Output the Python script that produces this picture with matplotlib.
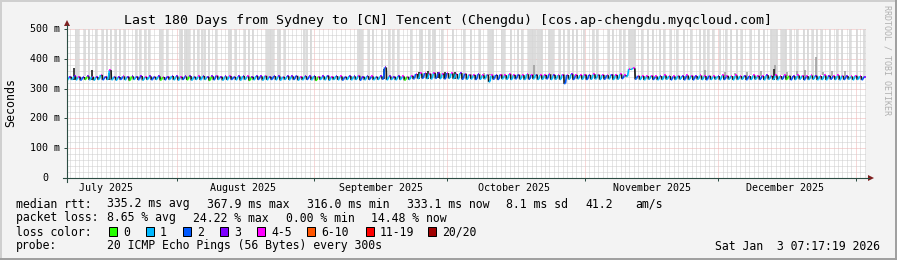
import datetime as dt
import matplotlib
matplotlib.use('Agg')
import matplotlib.pyplot as plt
from matplotlib.collections import LineCollection
from matplotlib.lines import Line2D
from matplotlib.patches import Rectangle, Polygon

matplotlib.rcParams['lines.scale_dashes'] = False
MONO = 'DejaVu Sans Mono'

# ---- data ----------------------------------------------------------------
START = dt.datetime(2025, 7, 7, 7, 17, 19)
N_DAYS = 180

# median rtt per day (ms): bottom and top of the daily sawtooth
low_ms = [
    329, 330, 329, 328, 330, 329, 328, 330, 329, 330,
    329, 328, 330, 329, 327, 330, 329, 328, 330, 329,
    330, 328, 329, 330, 329, 328, 330, 329, 328, 330,
    329, 330, 327, 329, 330, 328, 329, 330, 329, 328,
    330, 327, 329, 330, 328, 329, 330, 329, 328, 330,
    329, 330, 328, 329, 330, 329, 327, 330, 329, 328,
    330, 329, 328, 330, 329, 330, 328, 329, 330, 329,
    330, 331, 329, 330, 329, 330, 328, 330, 332, 333,
    334, 333, 332, 334, 333, 332, 334, 333, 332, 331,
    331, 332, 330, 331, 332, 322, 331, 330, 332, 331,
    330, 332, 331, 330, 331, 332, 330, 331, 332, 330,
    331, 330, 316, 331, 330, 332, 331, 330, 331, 332,
    330, 331, 332, 330, 331, 333, 340, 364, 331, 330,
    329, 331, 330, 329, 330, 331, 329, 330, 331, 329,
    330, 329, 331, 330, 329, 330, 331, 329, 330, 331,
    329, 330, 331, 329, 330, 331, 330, 329, 331, 330,
    329, 331, 330, 329, 330, 331, 329, 330, 331, 329,
    330, 329, 331, 330, 329, 330, 331, 329, 330, 329,
]
high_ms = [
    340, 341, 340, 339, 341, 340, 339, 346, 340, 362,
    340, 339, 341, 340, 341, 340, 342, 339, 341, 340,
    341, 339, 340, 342, 341, 340, 341, 342, 340, 341,
    342, 340, 341, 343, 340, 341, 342, 340, 341, 342,
    341, 340, 342, 341, 343, 340, 342, 341, 340, 342,
    341, 343, 340, 342, 341, 342, 340, 341, 343, 340,
    342, 341, 340, 342, 341, 343, 340, 342, 341, 340,
    341, 371, 341, 340, 342, 341, 340, 343, 349, 351,
    352, 350, 353, 351, 350, 352, 351, 349, 352, 350,
    347, 346, 348, 345, 347, 344, 346, 347, 345, 348,
    346, 347, 345, 348, 346, 347, 345, 346, 348, 346,
    345, 347, 346, 348, 346, 345, 347, 346, 348, 347,
    346, 345, 347, 346, 348, 345, 366, 368, 343, 342,
    342, 343, 341, 342, 344, 342, 341, 343, 342, 344,
    343, 342, 344, 342, 343, 341, 342, 344, 343, 342,
    344, 342, 343, 342, 344, 343, 342, 345, 343, 344,
    342, 344, 343, 342, 344, 343, 342, 344, 343, 342,
    344, 343, 342, 344, 343, 342, 341, 343, 342, 340,
]
# loss class of the low/rising part and of the top of each day's tooth
rise_loss = (
    "1112011121" "1121012112" "1021112011" "1102111211" "1012112111"
    "1211210111" "1121112121" "1211110121" "2112121112" "1121112211"
    "1211211121" "1121211211" "1211121121" "1121112112" "1211211121"
    "1112112111" "1202112111" "1121121112"
)
top_loss = (
    "3343343434" "3343333433" "3433343334" "3334334333" "4333433343"
    "3343334334" "3433343343" "3333344444" "4443444434" "4434443444"
    "4344434443" "4443444344" "4434444444" "4443444434" "4344443444"
    "4434444344" "4443444434" "4344434443"
)

# days (since start) with single pings above the 500 ms ceiling
spike_days = [
    2.0, 2.5, 4.0, 5.0, 6.5, 8.0, 9.0, 10.0, 11.0, 12.0, 13.0, 15.5, 16.5,
    17.5, 18.5, 21.0, 21.5, 22.5, 25.5, 26.0, 26.5, 27.0, 27.5, 28.5, 29.5,
    30.5, 31.0, 32.0, 33.5, 36.5, 37.0, 38.0, 40.0, 41.0, 42.0, 45.0, 45.5,
    46.0, 46.5, 47.5, 48.0, 49.0, 53.5, 54.0, 55.0, 65.5, 66.0, 66.5, 68.0,
    69.0, 71.0, 72.5, 73.5, 74.5, 77.5, 79.5, 80.0, 81.5, 82.5, 83.0, 84.5,
    87.0, 89.5, 91.0, 93.0, 95.0, 95.5, 96.0, 98.0, 98.5, 100.0, 101.5,
    102.5, 104.0, 104.5, 105.0, 105.5, 106.0, 106.5, 107.0, 108.5, 109.0,
    109.5, 111.0, 112.0, 113.0, 114.0, 115.0, 116.5, 118.5, 119.5, 122.0,
    123.0, 124.5, 125.5, 126.5, 127.0, 127.5, 128.0, 129.5, 131.0, 132.0,
    133.5, 134.5, 136.0, 137.5, 139.0, 140.5, 142.5, 143.5, 144.5, 145.5,
    147.0, 148.5, 149.5, 151.0, 152.0, 154.0, 156.0, 157.0, 158.5, 159.0,
    159.5, 160.0, 161.0, 161.5, 162.0, 163.0, 164.5, 166.0, 167.0, 168.0,
    169.0, 170.0, 172.0, 173.5, 174.5, 176.5, 178.0, 179.5,
]
# denser smoke reaching above the median
dark_smoke_days = [1.6, 5.6, 9.5, 71.4, 79.3, 81.4, 83.5, 85.2, 87.4, 159.2]
dark_smoke_top = [370, 362, 352, 366, 357, 358, 356, 357, 355, 366]
grey_smoke_days = [94.0, 95.3, 105.3, 143.8, 148.2, 150.4, 153.3, 156.4,
                   159.6, 162.3, 164.4, 166.2, 168.8, 170.3, 172.4, 175.2]
grey_smoke_top = [352, 350, 380, 363, 355, 352, 356, 360,
                  380, 357, 358, 362, 406, 356, 358, 360]

months = [(2025, 7), (2025, 8), (2025, 9), (2025, 10), (2025, 11), (2025, 12), (2026, 1)]
month_labels = ['July 2025', 'August 2025', 'September 2025', 'October 2025',
                'November 2025', 'December 2025']
y_ticks = [0, 100, 200, 300, 400, 500]
y_labels = ['0', '100 m', '200 m', '300 m', '400 m', '500 m']

loss_keys = ['0', '1', '2', '3', '4', '6', '11', '20']
loss_names = ['0', '1', '2', '3', '4-5', '6-10', '11-19', '20/20']
loss_colors = ['#26ff00', '#00b8ff', '#0059ff', '#7e00ff', '#ff00ff',
               '#ff5500', '#ff0000', '#a00000']
lc = dict(zip(loss_keys, loss_colors))

# ---- figure ---------------------------------------------------------------
W, H, DPI = 897, 260, 100
BACK = '#f3f3f3'
AXIS = '#2c4d43'
ARROW = '#7f1f1f'
fig = plt.figure(figsize=(W / DPI, H / DPI), dpi=DPI, facecolor=BACK)


def fx(x):
    return x / W


def fy(y):
    return 1 - y / H


L, R, T, B = 67, 866, 29, 178
ax = fig.add_axes([fx(L), fy(B), (R - L) / W, (B - T) / H], facecolor='white')
ax.set_xlim(0, N_DAYS)
ax.set_ylim(0, 500)
for s in ax.spines.values():
    s.set_visible(False)


def days_since_start(d):
    return (d - START).total_seconds() / 86400.0


month_starts = [days_since_start(dt.datetime(y, m, 1)) for y, m in months]
first_midnight = days_since_start(dt.datetime(2025, 7, 8))
day_lines = [first_midnight + k for k in range(N_DAYS)]

ax.set_xticks([m for m in month_starts if 0 < m < N_DAYS])
ax.set_xticks(day_lines, minor=True)
ax.set_yticks(y_ticks)
ax.set_yticks(range(0, 501, 20), minor=True)
ax.set_xticklabels([])
ax.set_yticklabels([])
ax.tick_params(which='major', length=2.2, width=0.72, color=AXIS, direction='out')
ax.tick_params(which='minor', length=0)
ax.grid(which='minor', color='#cdcdcd', lw=0.72, linestyle=(0, (0.72, 0.72)))
ax.grid(which='major', color='#efb3b3', lw=0.72, linestyle=(0, (0.72, 0.72)))
ax.set_axisbelow(True)

# spikes to the ceiling
ax.vlines(spike_days, [high_ms[int(d)] for d in spike_days], 505,
          color='#d6d6d6', lw=1.2, zorder=2)
ax.vlines(grey_smoke_days, [high_ms[int(d)] for d in grey_smoke_days], grey_smoke_top,
          color='#9a9a9a', lw=1.1, zorder=3)
ax.vlines(dark_smoke_days, [low_ms[int(d)] for d in dark_smoke_days], dark_smoke_top,
          color='#202020', lw=1.2, zorder=3)

# median line, coloured by loss: rising part, coloured top, dark drop
segs, cols = [], []
for d in range(N_DAYS):
    segs.append([(d, low_ms[d]), (d + 0.3, low_ms[d] + 2)])
    cols.append(lc[rise_loss[d]])
    segs.append([(d + 0.3, low_ms[d] + 2), (d + 0.55, high_ms[d])])
    cols.append(lc[rise_loss[d]])
    segs.append([(d + 0.55, high_ms[d]), (d + 0.92, high_ms[d])])
    cols.append(lc[top_loss[d]])
    if d + 1 < N_DAYS:
        segs.append([(d + 0.92, high_ms[d]), (d + 1, low_ms[d + 1])])
        cols.append('#1a1a1a')
ax.add_collection(LineCollection(segs, colors=cols, linewidths=1.2, zorder=4))

# y tick labels (monospace, "0" lines up with the digits above it)
for v, lab in zip(y_ticks, y_labels):
    shift = -7 if v else -19
    ax.annotate(lab, xy=(0, v), xycoords=('axes fraction', 'data'),
                xytext=(shift, 0), textcoords='offset pixels',
                ha='right', va='center', family=MONO, fontsize=7.2)

# month labels centred half a month after each month start
for (y, m), lab in zip(months[:-1], month_labels):
    mid = days_since_start(dt.datetime(y, m, 1) + dt.timedelta(days=15))
    ax.annotate(lab, xy=(mid, 0), xycoords=('data', 'axes fraction'),
                xytext=(0, -12.7), textcoords='offset pixels',
                ha='center', va='baseline', family=MONO, fontsize=7.2,
                annotation_clip=False)

# axes with arrows
fig.add_artist(Line2D([fx(L - 4), fx(R + 3)], [fy(B), fy(B)], color=AXIS, lw=0.8))
fig.add_artist(Line2D([fx(L), fx(L)], [fy(B + 4), fy(T - 4)], color=AXIS, lw=0.8))
fig.add_artist(Polygon([(fx(R + 2), fy(B - 3)), (fx(R + 2), fy(B + 3)), (fx(R + 8), fy(B))],
                       closed=True, color=ARROW, lw=0))
fig.add_artist(Polygon([(fx(L - 3), fy(T - 3)), (fx(L + 3), fy(T - 3)), (fx(L), fy(T - 9))],
                       closed=True, color=ARROW, lw=0))

# title, axis title, watermark
fig.text(fx(448), fy(24), 'Last 180 Days from Sydney to [CN] Tencent (Chengdu) '
         '[cos.ap-chengdu.myqcloud.com]', ha='center', va='baseline',
         family=MONO, fontsize=9.55)
fig.text(fx(11), fy(103), 'Seconds', rotation=90, ha='center', va='center',
         family=MONO, fontsize=8.4)
fig.text(fx(887), fy(5), 'RRDTOOL / TOBI OETIKER', rotation=270, ha='center', va='top',
         family=MONO, fontsize=6.0, color='#b0b0b0')

# legend block
LEG = dict(family=MONO, fontsize=8.3, va='baseline')
line1 = [(16, 'median rtt:'), (107, '335.2 ms avg'), (207, '367.9 ms max'),
         (307, '316.0 ms min'), (407, '333.1 ms now'), (506, '8.1 ms sd'),
         (585, '41.2'), (635, 'am/s')]
line2 = [(16, 'packet loss:'), (107, '8.65 % avg'), (193, '24.22 % max'),
         (286, '0.00 % min'), (371, '14.48 % now')]
for x, s in line1:
    fig.text(fx(x), fy(207.5), s, **LEG)
for x, s in line2:
    fig.text(fx(x), fy(221.5), s, **LEG)
fig.text(fx(16), fy(235.5), 'loss color:', **LEG)
box_x = [109, 146, 183, 220, 257, 307, 366, 428]
for bx, name, col in zip(box_x, loss_names, loss_colors):
    fig.add_artist(Rectangle((fx(bx), fy(236)), 8 / W, 9 / H, facecolor=col,
                             edgecolor='black', lw=0.72))
    fig.text(fx(bx + 14), fy(235.5), name, **LEG)
fig.text(fx(16), fy(249.5), 'probe:', **LEG)
fig.text(fx(107), fy(249.5), '20 ICMP Echo Pings (56 Bytes) every 300s', **LEG)
fig.text(fx(880), fy(249.5), 'Sat Jan  3 07:17:19 2026', ha='right',
         family=MONO, fontsize=8.3, va='baseline')

# rrdtool style bevelled border
fig.add_artist(Line2D([0, 1], [fy(0.5), fy(0.5)], color='#cfcfcf', lw=1.4))
fig.add_artist(Line2D([fx(0.5), fx(0.5)], [0, 1], color='#cfcfcf', lw=1.4))
fig.add_artist(Line2D([0, 1], [fy(259), fy(259)], color='#9e9e9e', lw=1.4))
fig.add_artist(Line2D([fx(896), fx(896)], [0, 1], color='#9e9e9e', lw=1.4))

fig.savefig('out.png', dpi=DPI, facecolor=BACK)
